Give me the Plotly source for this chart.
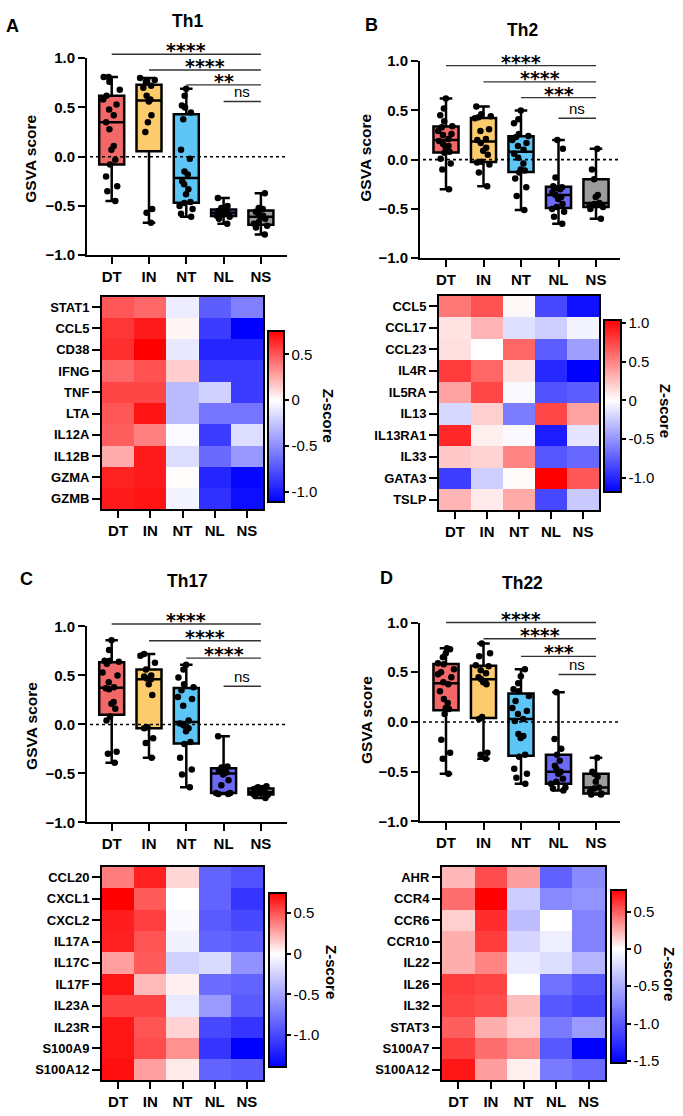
import numpy as np
import plotly.graph_objects as go

W, H = 683, 1116
FONT = "Liberation Sans, Arial, sans-serif"

groups = ["DT", "IN", "NT", "NL", "NS"]
box_colors = ["#F26868", "#FCCB6C", "#5EC6F6", "#6C69F4", "#9C9C9C"]

# ---------------- GSVA scores (box plots) ----------------
th1_DT = [0.81, 0.81, 0.76, 0.68, 0.62, 0.58, 0.53, 0.48, 0.42, 0.35, 0.28, 0.11, 0.07, -0.03, -0.08, -0.20, -0.30, -0.35, -0.45]
th1_IN = [0.80, 0.78, 0.76, 0.72, 0.70, 0.62, 0.58, 0.56, 0.42, 0.35, 0.25, -0.53, -0.57, -0.67]
th1_NT = [0.69, 0.62, 0.52, 0.50, 0.45, 0.38, 0.07, -0.02, -0.15, -0.18, -0.25, -0.28, -0.33, -0.38, -0.46, -0.47, -0.50, -0.53, -0.58, -0.61]
th1_NL = [-0.42, -0.50, -0.52, -0.54, -0.55, -0.56, -0.57, -0.57, -0.58, -0.59, -0.60, -0.61, -0.63, -0.68]
th1_NS = [-0.37, -0.52, -0.53, -0.56, -0.58, -0.60, -0.61, -0.63, -0.66, -0.68, -0.70, -0.72, -0.79]

th2_DT = [0.62, 0.52, 0.45, 0.39, 0.34, 0.33, 0.29, 0.26, 0.25, 0.21, 0.19, 0.16, 0.14, 0.12, 0.08, 0.07, 0.01, -0.04, -0.10, -0.30]
th2_IN = [0.54, 0.46, 0.44, 0.43, 0.42, 0.31, 0.29, 0.21, 0.20, 0.17, 0.12, 0.09, 0.05, -0.02, -0.03, -0.05, -0.13, -0.27]
th2_NT = [0.50, 0.41, 0.37, 0.26, 0.24, 0.23, 0.20, 0.17, 0.14, 0.10, 0.06, 0.02, -0.04, -0.10, -0.11, -0.13, -0.19, -0.28, -0.37, -0.51]
th2_NL = [0.20, 0.11, -0.18, -0.27, -0.28, -0.29, -0.30, -0.33, -0.36, -0.38, -0.40, -0.45, -0.48, -0.50, -0.53, -0.58, -0.65]
th2_NS = [0.11, -0.10, -0.20, -0.36, -0.38, -0.44, -0.45, -0.46, -0.48, -0.50, -0.60]

th17_DT = [0.86, 0.76, 0.65, 0.65, 0.64, 0.62, 0.53, 0.50, 0.43, 0.38, 0.37, 0.36, 0.23, 0.21, 0.16, 0.08, 0.04, -0.28, -0.30, -0.39]
th17_IN = [0.72, 0.70, 0.63, 0.56, 0.50, 0.49, 0.47, 0.46, 0.41, 0.30, -0.03, -0.04, -0.14, -0.19, -0.34]
th17_NT = [0.61, 0.56, 0.48, 0.41, 0.38, 0.35, 0.28, 0.26, 0.19, 0.04, 0.01, -0.01, -0.04, -0.07, -0.18, -0.20, -0.34, -0.46, -0.51, -0.64]
th17_NL = [-0.12, -0.43, -0.44, -0.45, -0.47, -0.48, -0.49, -0.51, -0.57, -0.62, -0.70, -0.70, -0.71, -0.71]
th17_NS = [-0.63, -0.64, -0.65, -0.66, -0.67, -0.68, -0.69, -0.70, -0.70, -0.71, -0.72, -0.73, -0.75]

th22_DT = [0.74, 0.73, 0.69, 0.65, 0.59, 0.58, 0.53, 0.50, 0.48, 0.45, 0.40, 0.38, 0.31, 0.23, 0.19, 0.14, 0.13, 0.08, -0.18, -0.31, -0.37, -0.52]
th22_IN = [0.79, 0.69, 0.66, 0.57, 0.56, 0.52, 0.49, 0.45, 0.43, 0.41, 0.40, 0.38, 0.05, 0.03, -0.31, -0.33, -0.37]
th22_NT = [0.53, 0.46, 0.39, 0.33, 0.31, 0.26, 0.21, 0.14, 0.11, 0.08, 0.03, 0.01, -0.12, -0.14, -0.16, -0.33, -0.35, -0.47, -0.52, -0.56, -0.62]
th22_NL = [0.30, -0.17, -0.27, -0.33, -0.39, -0.44, -0.47, -0.50, -0.52, -0.57, -0.60, -0.62, -0.66, -0.67, -0.69]
th22_NS = [-0.36, -0.50, -0.52, -0.55, -0.60, -0.66, -0.67, -0.70, -0.72, -0.73, -0.73]

# significance brackets: label, start group index (all end at NS), height (GSVA units)
th1_sig = ["****", "****", "**", "ns"]
th2_sig = ["****", "****", "***", "ns"]
th17_sig = ["****", "****", "****", "ns"]
th22_sig = ["****", "****", "***", "ns"]
sig_start = [0, 1, 2, 3]
th1_sig_y = [1.04, 0.88, 0.73, 0.56]
th2_sig_y = [0.955, 0.79, 0.63, 0.42]
th17_sig_y = [1.025, 0.854, 0.677, 0.39]
th22_sig_y = [1.00, 0.837, 0.66, 0.477]

# ---------------- Heatmaps (Z-score) ----------------
th1_genes = ["STAT1", "CCL5", "CD38", "IFNG", "TNF", "LTA", "IL12A", "IL12B", "GZMA", "GZMB"]
th1_z = [
    [0.50, 0.45, -0.08, -0.70, -0.55],
    [0.60, 0.68, 0.03, -0.85, -1.11],
    [0.62, 0.76, -0.10, -0.95, -0.95],
    [0.45, 0.52, 0.15, -0.85, -0.85],
    [0.55, 0.55, -0.30, -0.20, -0.85],
    [0.50, 0.70, -0.30, -0.60, -0.60],
    [0.48, 0.38, -0.02, -0.85, -0.15],
    [0.25, 0.68, -0.15, -0.65, -0.45],
    [0.66, 0.68, 0.01, -0.95, -1.08],
    [0.68, 0.70, -0.05, -0.90, -1.05],
]
th2_genes = ["CCL5", "CCL17", "CCL23", "IL4R", "IL5RA", "IL13", "IL13RA1", "IL33", "GATA3", "TSLP"]
th2_z = [
    [0.55, 0.70, 0.03, -0.85, -1.10],
    [0.12, 0.30, -0.15, -0.22, -0.05],
    [0.13, 0.00, 0.62, -0.75, -0.45],
    [0.80, 0.62, 0.12, -1.00, -1.18],
    [0.38, 0.75, -0.03, -0.80, -0.75],
    [-0.18, 0.20, -0.60, 0.75, 0.38],
    [0.88, 0.06, -0.03, -1.05, -0.12],
    [0.22, 0.18, 0.50, -0.78, -0.70],
    [-0.90, -0.22, 0.02, 1.04, 0.68],
    [0.30, 0.08, 0.35, -0.85, -0.25],
]
th17_genes = ["CCL20", "CXCL1", "CXCL2", "IL17A", "IL17C", "IL17F", "IL23A", "IL23R", "S100A9", "S100A12"]
th17_z = [
    [0.38, 0.65, 0.12, -0.85, -0.95],
    [0.745, 0.48, 0.00, -0.85, -1.10],
    [0.66, 0.56, -0.03, -0.90, -1.00],
    [0.65, 0.50, -0.07, -0.85, -0.90],
    [0.28, 0.48, -0.25, -0.20, -0.60],
    [0.68, 0.20, 0.04, -0.80, -0.85],
    [0.55, 0.55, -0.12, -0.55, -0.90],
    [0.68, 0.50, 0.13, -1.00, -1.10],
    [0.68, 0.52, 0.32, -1.10, -1.39],
    [0.70, 0.28, 0.06, -0.85, -0.90],
]
th22_genes = ["AHR", "CCR4", "CCR6", "CCR10", "IL22", "IL26", "IL32", "STAT3", "S100A7", "S100A12"]
th22_z = [
    [0.22, 0.55, 0.30, -0.95, -0.70],
    [0.45, 0.79, -0.30, -0.70, -0.65],
    [0.15, 0.65, -0.40, 0.00, -0.75],
    [0.25, 0.60, -0.25, -0.10, -0.75],
    [0.25, 0.38, -0.12, -0.20, -0.45],
    [0.60, 0.58, 0.00, -0.85, -1.00],
    [0.58, 0.55, 0.20, -1.00, -1.10],
    [0.50, 0.25, 0.15, -0.80, -0.60],
    [0.60, 0.45, 0.35, -1.00, -1.53],
    [0.72, 0.30, 0.05, -0.80, -0.90],
]
th1_cb_ticks = [0.5, 0, -0.5, -1.0]
th2_cb_ticks = [1.0, 0.5, 0, -0.5, -1.0]
th17_cb_ticks = [0.5, 0, -0.5, -1.0]
th22_cb_ticks = [0.5, 0, -0.5, -1.0, -1.5]

# ---------------- layout (pixel geometry) ----------------
panels = [
    dict(letter="A", title="Th1", box=[th1_DT, th1_IN, th1_NT, th1_NL, th1_NS], sig=th1_sig, sig_y=th1_sig_y,
         genes=th1_genes, z=th1_z, cbt=th1_cb_ticks,
         bx=(87, 287), by=(50, 250), c0=111.7, sp=37.3,
         hx=(102, 263), hy=(292, 508), cb=(268, 284, 328, 499),
         letter_xy=(12, 17), title_xy=(187, 12.5), ylab_xy=(31, 152), zlab_xy=(328, 413)),
    dict(letter="B", title="Th2", box=[th2_DT, th2_IN, th2_NT, th2_NL, th2_NS], sig=th2_sig, sig_y=th2_sig_y,
         genes=th2_genes, z=th2_z, cbt=th2_cb_ticks,
         bx=(420, 620), by=(53, 253), c0=446, sp=37.5,
         hx=(439, 599), hy=(291, 509), cb=(604, 621, 317, 489),
         letter_xy=(371, 16), title_xy=(522, 21.5), ylab_xy=(366, 151), zlab_xy=(665, 408)),
    dict(letter="C", title="Th17", box=[th17_DT, th17_IN, th17_NT, th17_NL, th17_NS], sig=th17_sig, sig_y=th17_sig_y,
         genes=th17_genes, z=th17_z, cbt=th17_cb_ticks,
         bx=(87, 287), by=(627, 826), c0=111.7, sp=37.3,
         hx=(102, 263), hy=(871, 1088), cb=(269, 286, 899, 1073),
         letter_xy=(26, 579), title_xy=(187, 580.5), ylab_xy=(32, 728), zlab_xy=(332, 978)),
    dict(letter="D", title="Th22", box=[th22_DT, th22_IN, th22_NT, th22_NL, th22_NS], sig=th22_sig, sig_y=th22_sig_y,
         genes=th22_genes, z=th22_z, cbt=th22_cb_ticks,
         bx=(420, 620), by=(623, 825), c0=446, sp=37.5,
         hx=(442, 605), hy=(871, 1088), cb=(611, 626, 896, 1069),
         letter_xy=(386, 578), title_xy=(522, 582.5), ylab_xy=(366, 722), zlab_xy=(670, 980)),
]


def PX(p):
    return p / W


def PY(p):
    return 1 - p / H


fig = go.Figure()
annotations = []
shapes = []
layout_axes = {}

for k, p in enumerate(panels):
    ib = 2 * k + 1
    ih = 2 * k + 2
    xb = "x" if ib == 1 else f"x{ib}"
    yb = "y" if ib == 1 else f"y{ib}"
    xh, yh = f"x{ih}", f"y{ih}"

    # ---- box plot ----
    for gi, vals in enumerate(p["box"]):
        v = np.asarray(vals, dtype=float)
        q1, med, q3 = np.percentile(v, [25, 50, 75], method="weibull")
        fig.add_trace(go.Box(
            x=[gi], q1=[q1], median=[med], q3=[q3], lowerfence=[v.min()], upperfence=[v.max()],
            boxpoints=False, fillcolor=box_colors[gi], line=dict(color="black", width=2.5),
            width=0.67, whiskerwidth=0.5, xaxis=xb, yaxis=yb, showlegend=False, hoverinfo="skip"))
        fig.add_trace(go.Box(
            x=[gi] * len(v), y=v, boxpoints="all", jitter=0.75, pointpos=0,
            fillcolor="rgba(0,0,0,0)", line=dict(color="rgba(0,0,0,0)", width=0),
            marker=dict(color="black", size=6.5), width=0.67, whiskerwidth=0,
            xaxis=xb, yaxis=yb, showlegend=False))

    L, R = p["bx"]
    T, B = p["by"]
    c0, sp = p["c0"], p["sp"]
    xr = [(L - c0) / sp, (R - c0) / sp]
    layout_axes["xaxis" if ib == 1 else f"xaxis{ib}"] = dict(
        domain=[PX(L), PX(R)], range=xr, anchor=yb, tickmode="array", tickvals=list(range(5)), ticktext=groups,
        showline=True, linewidth=2, linecolor="black", ticks="outside", ticklen=7, tickwidth=2, tickcolor="black",
        tickfont=dict(family=FONT, size=15, color="black", weight="bold"), showgrid=False, zeroline=False, fixedrange=True)
    layout_axes["yaxis" if ib == 1 else f"yaxis{ib}"] = dict(
        domain=[PY(B), PY(T)], range=[-1, 1], anchor=xb, dtick=0.5, tick0=0, tickformat=".1f",
        showline=True, linewidth=2, linecolor="black", ticks="outside", ticklen=7, tickwidth=2, tickcolor="black",
        tickfont=dict(family=FONT, size=15, color="black", weight="bold"), showgrid=False, zeroline=False, fixedrange=True)

    # dotted zero line
    shapes.append(dict(type="line", xref=f"{xb} domain", yref=yb, x0=0.015, x1=0.99, y0=0, y1=0,
                       line=dict(color="black", width=1.6, dash="dot")))

    def ypix(val, T=T, B=B):
        return T + (1 - val) / 2 * (B - T)

    for lab, s, yv in zip(p["sig"], sig_start, p["sig_y"]):
        x0 = c0 + s * sp
        x1 = c0 + 4 * sp
        yp = ypix(yv)
        shapes.append(dict(type="line", xref="paper", yref="paper", x0=PX(x0), x1=PX(x1), y0=PY(yp), y1=PY(yp),
                           line=dict(color="#333333", width=1.4)))
        if lab == "ns":
            annotations.append(dict(text="ns", x=PX((x0 + x1) / 2), y=PY(yp - 10), xref="paper", yref="paper",
                                    showarrow=False, xanchor="center", yanchor="middle",
                                    font=dict(family=FONT, size=15, color="black")))
        else:
            annotations.append(dict(text=lab, x=PX((x0 + x1) / 2), y=PY(yp - 4), xref="paper", yref="paper",
                                    showarrow=False, xanchor="center", yanchor="middle",
                                    font=dict(family="DejaVu Sans", size=19, color="black", weight="bold")))

    # ---- heatmap ----
    z = np.asarray(p["z"], dtype=float)
    zmin, zmax = float(z.min()), float(z.max())
    mid = (0 - zmin) / (zmax - zmin)
    cs = [[0, "rgb(0,0,255)"], [mid, "rgb(255,255,255)"], [1, "rgb(255,0,0)"]]
    cl, cr, ct, cbm = p["cb"]
    fig.add_trace(go.Heatmap(
        z=z, x=groups, y=p["genes"], colorscale=cs, zmin=zmin, zmax=zmax, xaxis=xh, yaxis=yh,
        xgap=0, ygap=0, hoverinfo="skip",
        colorbar=dict(x=PX(cl), xanchor="left", xpad=0, y=PY((ct + cbm) / 2), yanchor="middle", ypad=0,
                      len=cbm - ct, lenmode="pixels", thickness=cr - cl, thicknessmode="pixels",
                      outlinewidth=2, outlinecolor="black", tickmode="array", tickvals=p["cbt"],
                      ticktext=[("%g" % t if t == 0 else "%.1f" % t) for t in p["cbt"]],
                      ticks="outside", ticklen=4, tickwidth=2, tickcolor="black",
                      tickfont=dict(family=FONT, size=15, color="black"))))
    hl, hr = p["hx"]
    ht, hb = p["hy"]
    layout_axes[f"xaxis{ih}"] = dict(
        domain=[PX(hl), PX(hr)], anchor=yh, showline=True, mirror=True, linewidth=2, linecolor="black",
        ticks="outside", ticklen=7, tickwidth=2, tickcolor="black", showgrid=False, zeroline=False,
        tickfont=dict(family=FONT, size=15, color="black", weight="bold"), fixedrange=True)
    layout_axes[f"yaxis{ih}"] = dict(
        domain=[PY(hb), PY(ht)], anchor=xh, autorange="reversed", showline=True, mirror=True, linewidth=2,
        linecolor="black", ticks="outside", ticklen=8, tickwidth=2, tickcolor="black", showgrid=False,
        zeroline=False, tickfont=dict(family=FONT, size=13, color="black", weight="bold"), fixedrange=True)

    # ---- texts ----
    lx, ly = p["letter_xy"]
    annotations.append(dict(text=p["letter"], x=PX(lx), y=PY(ly), xref="paper", yref="paper", showarrow=False,
                            xanchor="center", yanchor="middle",
                            font=dict(family=FONT, size=18, color="black", weight="bold")))
    tx, ty = p["title_xy"]
    annotations.append(dict(text=p["title"], x=PX(tx), y=PY(ty), xref="paper", yref="paper", showarrow=False,
                            xanchor="center", yanchor="middle",
                            font=dict(family=FONT, size=17.5, color="black", weight="bold")))
    gx, gy = p["ylab_xy"]
    annotations.append(dict(text="GSVA score", x=PX(gx), y=PY(gy), xref="paper", yref="paper", showarrow=False,
                            xanchor="center", yanchor="middle", textangle=-90,
                            font=dict(family=FONT, size=15.5, color="black", weight="bold")))
    zx, zy = p["zlab_xy"]
    annotations.append(dict(text="Z-score", x=PX(zx), y=PY(zy), xref="paper", yref="paper", showarrow=False,
                            xanchor="center", yanchor="middle", textangle=90,
                            font=dict(family=FONT, size=15, color="black", weight="bold")))

fig.update_layout(
    width=W, height=H, margin=dict(l=0, r=0, t=0, b=0), autosize=False,
    paper_bgcolor="white", plot_bgcolor="white", showlegend=False, boxmode="overlay",
    annotations=annotations, shapes=shapes, **layout_axes)

fig.write_html("out.html", config={"displayModeBar": False})
